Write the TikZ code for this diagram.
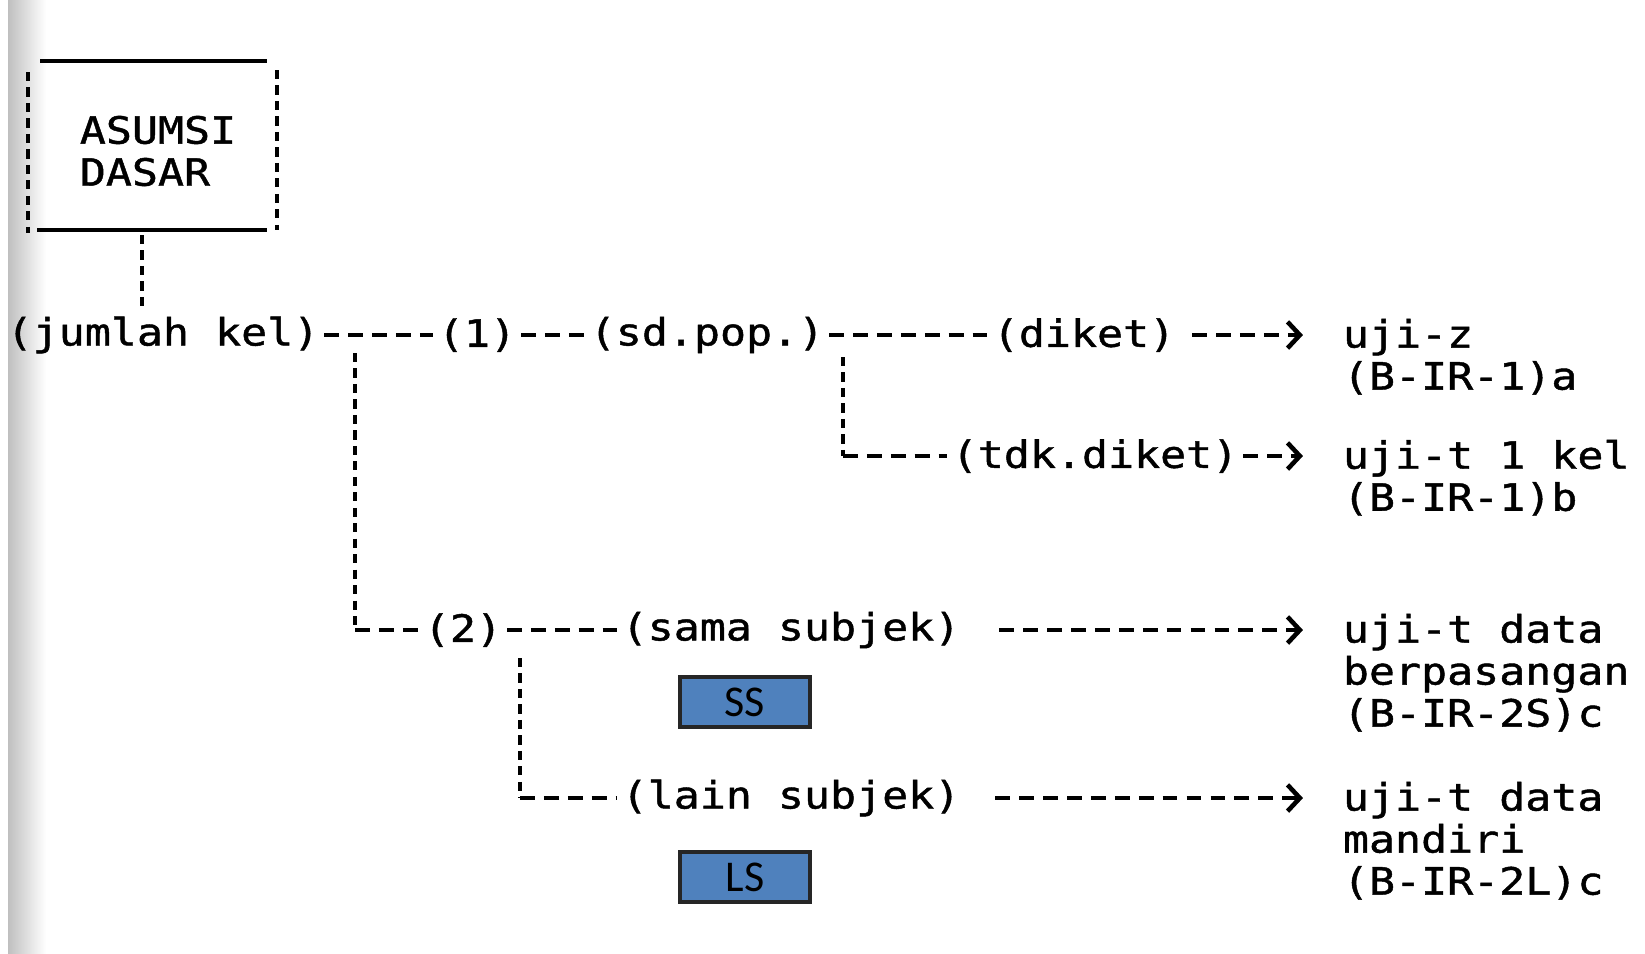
\documentclass[tikz,border=0pt]{standalone}
\usepackage{fontspec}
\usepackage{xcolor}
\newfontfamily\typer[FakeStretch=1.15, FakeBold=1.2]{DejaVu Sans Mono}
\newfontfamily\labelfont{Carlito}
\usetikzlibrary{arrows.meta, positioning, calc}
\definecolor{tagblue}{RGB}{79,129,189}

\begin{document}
\begin{tikzpicture}[x=0.01cm, y=-0.01cm, >={Straight Barb[length=3.5pt,width=7.5pt]}]
        \tikzset{
            txt/.style={inner sep=1.2pt, font=\fontsize{10.7}{11.95}\selectfont\typer, align=left},
            hdash/.style={line width=1.3pt, dash pattern=on 4.2pt off 2.6pt},
            vdash/.style={line width=1.4pt, dash pattern=on 2.6pt off 1.8pt},
            rule/.style={line width=1.4pt},
            tag/.style={rectangle, draw=black!85, line width=0.9pt, fill=tagblue, minimum width=1.3cm, minimum height=0.5cm, inner sep=0pt, font=\fontsize{12.5}{14}\selectfont\labelfont}
        }
        \useasboundingbox (0,0) rectangle (1645,953);
        % scan shadow on the left edge
        \shade[left color=gray!50, right color=white] (8,0) rectangle (46,953);

        \node[txt] (asumsi) at (158,151) {ASUMSI\\DASAR};
        \draw[rule] ([shift={(-118,-90)}]asumsi.center) -- ([shift={(109,-90)}]asumsi.center);
        \draw[rule] ([shift={(-121,79)}]asumsi.center) -- ([shift={(109,79)}]asumsi.center);
        \draw[vdash] ([shift={(-130,-79)}]asumsi.center) -- ([shift={(-130,82)}]asumsi.center);
        \draw[vdash] ([shift={(119,-81)}]asumsi.center) -- ([shift={(119,79)}]asumsi.center);

        % first branch
        \node[txt] (jumlah) at (163,335) {(jumlah kel)};
        \node[txt] (one) at (477,335) {(1)};
        \node[txt] (sdpop) at (707,335) {(sd.pop.)};
        \node[txt] (diket) at (1084,335) {(diket)};
        \node[txt] (tdk) at (1095,456) {(tdk.diket)};
        \node[txt, anchor=north west] (ujiz) at (1338,314) {uji-z\\(B-IR-1)a};
        \node[txt, anchor=north west] (ujit) at (1338,435) {uji-t 1 kel\\(B-IR-1)b};

        % second branch
        \node[txt] (two) at (463,630) {(2)};
        \node[txt] (sama) at (791,630) {(sama subjek)};
        \node[txt] (lain) at (791,798) {(lain subjek)};
        \node[txt, anchor=north west] (paired) at (1338,609) {uji-t data\\berpasangan\\(B-IR-2S)c};
        \node[txt, anchor=north west] (indep) at (1338,777) {uji-t data\\mandiri\\(B-IR-2L)c};

        \node[tag] (ss) at (745,702) {SS};
        \node[tag] (ls) at (745,877) {LS};

        \coordinate (boxdrop) at ([shift={(-16,84)}]asumsi.center);
        \coordinate (jdrop) at (355,353);
        \coordinate (sdfork) at (843,357);
        \coordinate (twofork) at (520,658);

        \draw[vdash] (boxdrop) -- (boxdrop |- jumlah.north);
        \draw[hdash] (jumlah.east) -- (one.west);
        \draw[hdash] (one.east) -- (sdpop.west);
        \draw[hdash] (sdpop.east) -- (diket.west);
        \draw[hdash, ->, shorten <=0.12cm, shorten >=0.35cm] (diket.east) -- (diket.east -| ujiz.west);

        \draw[vdash] (sdfork) -- (sdfork |- tdk.west);
        \draw[hdash] (sdfork |- tdk.west) -- (tdk.west);
        \draw[hdash, ->, shorten >=0.35cm] (tdk.east) -- (tdk.east -| ujit.west);

        \draw[vdash] (jdrop) -- (jdrop |- two.west);
        \draw[hdash] (jdrop |- two.west) -- (two.west);
        \draw[hdash] (two.east) -- (sama.west);
        \draw[hdash, ->, shorten <=0.34cm, shorten >=0.35cm] (sama.east) -- (sama.east -| paired.west);

        \draw[vdash] (twofork) -- (twofork |- lain.west);
        \draw[hdash] (twofork |- lain.west) -- (lain.west);
        \draw[hdash, ->, shorten <=0.3cm, shorten >=0.35cm] (lain.east) -- (lain.east -| indep.west);

    \end{tikzpicture}
\end{document}
